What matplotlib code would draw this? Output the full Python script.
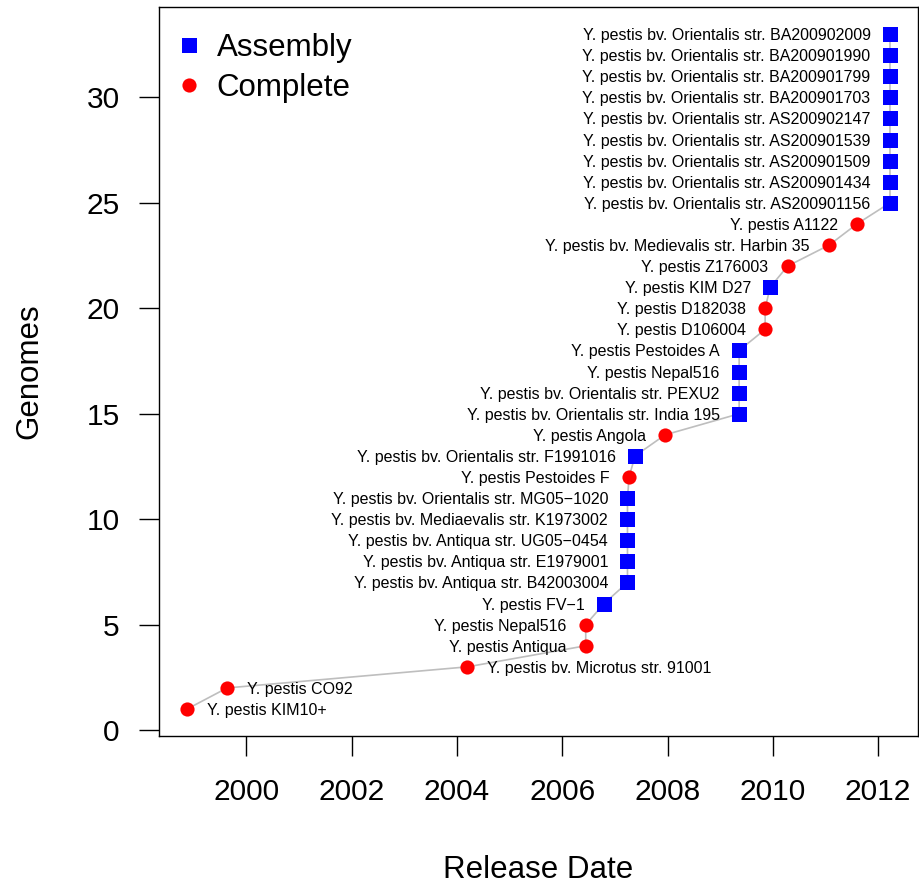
import matplotlib
matplotlib.use("Agg")
import matplotlib.pyplot as plt
from matplotlib.lines import Line2D

plt.rcParams['font.family'] = ['Liberation Sans', 'DejaVu Sans']

# release date (decimal year) of each genome, in cumulative order
release = [1998.873, 1999.633, 2004.196, 2006.445, 2006.445, 2006.793,
           2007.238, 2007.238, 2007.238, 2007.238, 2007.238, 2007.268,
           2007.382, 2007.952, 2009.359, 2009.359, 2009.359, 2009.359,
           2009.853, 2009.853, 2009.949, 2010.279, 2011.070, 2011.597,
           2012.224, 2012.224, 2012.224, 2012.224, 2012.224, 2012.224,
           2012.224, 2012.224, 2012.224]
genomes = list(range(1, len(release) + 1))

# 'A' = assembly, 'C' = complete
status = ['C', 'C', 'C', 'C', 'C', 'A', 'A', 'A', 'A', 'A', 'A', 'C',
          'A', 'C', 'A', 'A', 'A', 'A', 'C', 'C', 'A', 'C', 'C', 'C',
          'A', 'A', 'A', 'A', 'A', 'A', 'A', 'A', 'A']

names = [
    "Y. pestis KIM10+",
    "Y. pestis CO92",
    "Y. pestis bv. Microtus str. 91001",
    "Y. pestis Antiqua",
    "Y. pestis Nepal516",
    "Y. pestis FV\u22121",
    "Y. pestis bv. Antiqua str. B42003004",
    "Y. pestis bv. Antiqua str. E1979001",
    "Y. pestis bv. Antiqua str. UG05\u22120454",
    "Y. pestis bv. Mediaevalis str. K1973002",
    "Y. pestis bv. Orientalis str. MG05\u22121020",
    "Y. pestis Pestoides F",
    "Y. pestis bv. Orientalis str. F1991016",
    "Y. pestis Angola",
    "Y. pestis bv. Orientalis str. India 195",
    "Y. pestis bv. Orientalis str. PEXU2",
    "Y. pestis Nepal516",
    "Y. pestis Pestoides A",
    "Y. pestis D106004",
    "Y. pestis D182038",
    "Y. pestis KIM D27",
    "Y. pestis Z176003",
    "Y. pestis bv. Medievalis str. Harbin 35",
    "Y. pestis A1122",
    "Y. pestis bv. Orientalis str. AS200901156",
    "Y. pestis bv. Orientalis str. AS200901434",
    "Y. pestis bv. Orientalis str. AS200901509",
    "Y. pestis bv. Orientalis str. AS200901539",
    "Y. pestis bv. Orientalis str. AS200902147",
    "Y. pestis bv. Orientalis str. BA200901703",
    "Y. pestis bv. Orientalis str. BA200901799",
    "Y. pestis bv. Orientalis str. BA200901990",
    "Y. pestis bv. Orientalis str. BA200902009",
]

# labels drawn to the right of the point instead of the left
right_labels = {0, 1, 2}

x_ticks = [2000, 2002, 2004, 2006, 2008, 2010, 2012]
y_ticks = [0, 5, 10, 15, 20, 25, 30]


def main():
    fig = plt.figure(figsize=(9.19, 8.90), dpi=100)
    ax = fig.add_axes([0.173, 0.173, 0.826, 0.819])

    ax.plot(release, genomes, color='#BEBEBE', lw=1.2, zorder=1)

    xa = [x for x, s in zip(release, status) if s == 'A']
    ya = [y for y, s in zip(genomes, status) if s == 'A']
    xc = [x for x, s in zip(release, status) if s == 'C']
    yc = [y for y, s in zip(genomes, status) if s == 'C']
    ax.plot(xa, ya, 's', color='#0000FF', ms=10.8, mew=0, zorder=2)
    ax.plot(xc, yc, 'o', color='#FF0000', ms=10.2, mew=0, zorder=2)

    for i, (x, y, n) in enumerate(zip(release, genomes, names)):
        if i in right_labels:
            ax.annotate(n, (x, y), xytext=(14, 0), textcoords='offset points',
                        ha='left', va='center_baseline', fontsize=11.5)
        else:
            ax.annotate(n, (x, y), xytext=(-14, 0), textcoords='offset points',
                        ha='right', va='center_baseline', fontsize=11.5)

    ax.margins(x=0.04, y=0.04)
    ax.set_xticks(x_ticks)
    ax.set_yticks(y_ticks)
    ax.tick_params(length=14.4, width=1.0, labelsize=21.5)
    ax.tick_params(axis='x', pad=16)
    ax.tick_params(axis='y', pad=14)
    for sp in ax.spines.values():
        sp.set_linewidth(1.0)

    ax.set_xlabel("Release Date", fontsize=22.5)
    ax.set_ylabel("Genomes", fontsize=22.5)
    ax.xaxis.set_label_coords(0.5, -0.163)
    ax.yaxis.set_label_coords(-0.151, 0.5)

    handles = [
        Line2D([], [], marker='s', color='#0000FF', ls='none', ms=10.8, mew=0),
        Line2D([], [], marker='o', color='#FF0000', ls='none', ms=10.2, mew=0),
    ]
    ax.legend(handles, ["Assembly", "Complete"], loc='upper left',
              bbox_to_anchor=(0.0, 0.994),
              frameon=False, fontsize=22.5, handlelength=0.5,
              handletextpad=0.65, labelspacing=0.3,
              borderaxespad=0.3)

    fig.savefig("out.png", dpi=100)


if __name__ == "__main__":
    main()
